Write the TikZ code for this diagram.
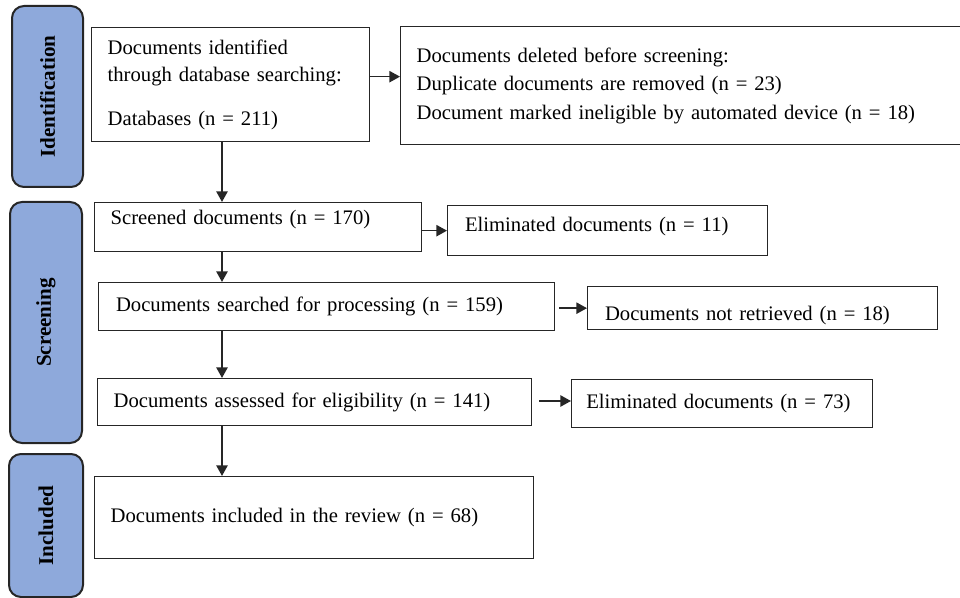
\documentclass[tikz,border=0pt]{standalone}
\usepackage{fontspec}
\setmainfont{Liberation Serif}
\usetikzlibrary{arrows.meta}

\definecolor{phaseblue}{RGB}{142,169,219}
\definecolor{inkgray}{RGB}{38,38,38}

\tikzset{every picture/.style={line width=0.75pt}}
\tikzset{
  phase/.style={draw=inkgray, line width=1.5pt, fill=phaseblue, rounded corners=9pt,
    rotate=90, font=\fontsize{15.8}{20}\selectfont\bfseries, inner sep=0pt},
  box/.style={draw=inkgray, line width=1pt, anchor=north west, align=left,
    inner xsep=12pt, inner ysep=2pt, font=\fontsize{15.5}{20}\selectfont},
  arr/.style={draw=inkgray, line width=1.2pt, -{Triangle[length=8pt,width=8.5pt]}}
}

\begin{document}
\begin{tikzpicture}[x=0.75pt,y=0.75pt,yscale=-1,xscale=1]
\useasboundingbox (0,0) rectangle (960,598);

%Shape: Rounded Rect [id:ident]
\node [phase, minimum width=135.75pt, minimum height=53.25pt] (ident) at (47.5,96.5) {Identification};
%Shape: Rounded Rect [id:screen]
\node [phase, minimum width=180.75pt, minimum height=54pt] (screen) at (46,322.5) {Screening};
%Shape: Rounded Rect [id:incl]
\node [phase, minimum width=107.25pt, minimum height=55.5pt] (incl) at (46,525.5) {Included};

% Text Node
\node [box, text width=184.5pt, minimum height=85.5pt] (found) at (91,27)
  {Documents identified\\through database searching:\\[13pt]Databases (n = 211)};
% Text Node
\node [box, text width=399.75pt, minimum height=88.5pt] (deleted) at (400,26)
  {Documents deleted before screening:\\[1.4pt]Duplicate documents are removed (n = 23)\\[1.4pt]Document marked ineligible by automated device (n = 18)};
% Text Node
\node [box, text width=221.25pt, minimum height=36.75pt, text height=11pt, text depth=15pt] (screened) at (94,202) {Screened documents (n = 170)};
% Text Node
\node [box, text width=213.75pt, minimum height=37.5pt, inner xsep=13pt, text height=11pt, text depth=9.4pt] (elimA) at (447,205) {Eliminated documents (n = 11)};
% Text Node
\node [box, text width=316pt, minimum height=36pt, inner xsep=13pt] (searched) at (98,282) {Documents searched for processing (n = 159)};
% Text Node
\node [box, text width=236.5pt, minimum height=32.25pt, inner xsep=13pt, text height=21.5pt, text depth=3.4pt] (notret) at (587,286) {Documents not retrieved (n = 18)};
% Text Node
\node [box, text width=301.5pt, minimum height=35.25pt] (assessed) at (97,378) {Documents assessed for eligibility (n = 141)};
% Text Node
\node [box, text width=203.75pt, minimum height=36pt, inner xsep=11pt] (elimB) at (571,379) {Eliminated documents (n = 73)};
% Text Node
\node [box, text width=305.25pt, minimum height=61.5pt] (included) at (94,476) {Documents included in the review (n = 68)};

%Straight Lines [id:flow]
\coordinate (spine) at (222,0);
\draw [arr] ([yshift=-6pt]found.east) -- ([yshift=-6pt]found.east -| deleted.west);
\draw [arr] (found.south -| spine) -- (screened.north -| spine);
\draw [arr] (elimA.west -| screened.east) -- (elimA.west);
\draw [arr] (screened.south -| spine) -- (searched.north -| spine);
\draw [arr] ([xshift=3pt]notret.west -| searched.east) -- (notret.west);
\draw [arr] (searched.south -| spine) -- (assessed.north -| spine);
\draw [arr] ([xshift=5pt,yshift=-2pt]elimB.west -| assessed.east) -- ([yshift=-2pt]elimB.west);
\draw [arr] (assessed.south -| spine) -- (included.north -| spine);
\end{tikzpicture}
\end{document}
